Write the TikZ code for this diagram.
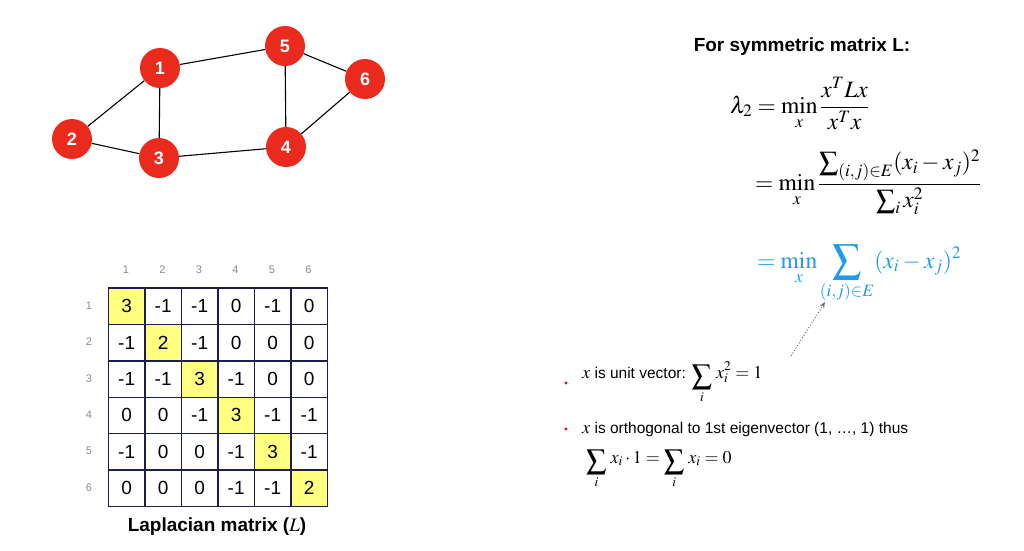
\documentclass[tikz,border=0pt]{standalone}
\usepackage{mathptmx}
\usepackage{graphicx}
\usepackage{fontspec}
\setmainfont{Liberation Sans}
\usetikzlibrary{arrows.meta}
\newcommand{\BgSum}[2]{\mathop{\raisebox{-#2pt}{$\vcenter{\hbox{\scalebox{#1}{$\textstyle\sum$}}}$}}\limits}
\newcommand{\BgSumN}[1]{\mathop{\vcenter{\hbox{\scalebox{#1}{$\textstyle\sum$}}}}\nolimits}
\definecolor{nodered}{HTML}{EA2A1C}
\definecolor{cellyellow}{HTML}{FFFF80}
\definecolor{gridblue}{HTML}{1C1F4A}
\definecolor{mathblue}{HTML}{1E9BF0}
\definecolor{labgray}{HTML}{8A8A8A}
\tikzset{
  vert/.style={circle,fill=nodered,minimum size=40pt,inner sep=0pt,text=white,font=\fontsize{18}{20}\selectfont\bfseries},
  edge/.style={draw=black,line width=1.1pt},
  cell/.style={draw=gridblue,line width=1.4pt,minimum width=36.5pt,minimum height=36.4pt,inner sep=0pt,anchor=north west,font=\fontsize{19}{21}\selectfont},
  diag/.style={cell,fill=cellyellow},
  idx/.style={text=labgray,font=\fontsize{11}{13}\selectfont},
  eq/.style={anchor=base west,inner sep=0pt,font=\fontsize{23.5}{28}\selectfont},
  bul/.style={circle,fill=red,minimum size=3.4pt,inner sep=0pt},
  btext/.style={anchor=base west,inner sep=0pt,font=\fontsize{15.5}{18}\selectfont},
}
\newcommand{\bm}[1]{{\fontsize{18}{20}\selectfont$\displaystyle #1$}}
\begin{document}
\begin{tikzpicture}[x=1pt,y=-1pt]
\useasboundingbox (0,0) rectangle (1024,550);
% graph
\node[vert] (n1) at (160,68) {1};
\node[vert] (n2) at (72,139) {2};
\node[vert] (n3) at (159,158) {3};
\node[vert] (n4) at (286,147) {4};
\node[vert] (n5) at (285,46) {5};
\node[vert] (n6) at (365,79) {6};
\draw[edge] (n1) -- (n2);
\draw[edge] (n1) -- (n3);
\draw[edge] (n1) -- (n5);
\draw[edge] (n2) -- (n3);
\draw[edge] (n3) -- (n4);
\draw[edge] (n4) -- (n5);
\draw[edge] (n5) -- (n6);
\draw[edge] (n4) -- (n6);
% matrix
\foreach \r/\row in {1/{3,-1,-1,0,-1,0},2/{-1,2,-1,0,0,0},3/{-1,-1,3,-1,0,0},4/{0,0,-1,3,-1,-1},5/{-1,0,0,-1,3,-1},6/{0,0,0,-1,-1,2}}{
  \foreach \v [count=\c] in \row {
    \ifnum\c=\r
      \node[diag] (m\r\c) at ({107.7+(\c-1)*36.5},{287.3+(\r-1)*36.4}) {\v};
    \else
      \node[cell] (m\r\c) at ({107.7+(\c-1)*36.5},{287.3+(\r-1)*36.4}) {\v};
    \fi
  }
}
\foreach \i in {1,...,6}{
  \node[idx] (ch\i) at ({107.7+(\i-0.5)*36.5},270) {\i};
  \node[idx] (rh\i) at (89,{287.3+(\i-0.5)*36.4}) {\i};
}
\node[font=\fontsize{19}{22}\selectfont\bfseries] (cap) at (217,527) {Laplacian matrix ($L$)};
% right side
\node[font=\fontsize{19}{22}\selectfont\bfseries] (title) at (802,47) {For symmetric matrix L:};
\node[eq] (eq1) at (730,113) {$\displaystyle \lambda_2 = \min_x \frac{x^T L x}{x^T x}$};
\node[eq] (eq2) at (755,190) {$\displaystyle = \min_x \frac{\BgSumN{1.15}_{(i,j)\in E}(x_i-x_j)^2}{\BgSumN{1.15}_i x_i^2}$};
\node[eq,text=mathblue] (eq3) at (757,268) {$\displaystyle = \min_x \BgSum{1.75}{0}_{(i,j)\in E}(x_i-x_j)^2$};
\coordinate (arrA) at (791,356);
\coordinate (arrB) at (825,302);
\draw[labgray!80!black,dotted,line width=1pt,-{Stealth[length=6pt,width=5pt]}] (arrA) -- (arrB);
% bullets
\node[bul] (b1) at (566,383) {};
\node[btext] (t1) at (582,378) {\bm{x} is unit vector: \bm{\BgSum{1.6}{4}_i\, x_i^2 = 1}};
\node[bul] (b2) at (566,429) {};
\node[btext] (t2) at (582,433) {\bm{x} is orthogonal to 1st eigenvector (1, …, 1) thus};
\node[btext] (t3) at (586,463) {\bm{\BgSum{1.6}{4}_i\, x_i\cdot 1 = \BgSum{1.6}{4}_i\, x_i = 0}};
\end{tikzpicture}
\end{document}
